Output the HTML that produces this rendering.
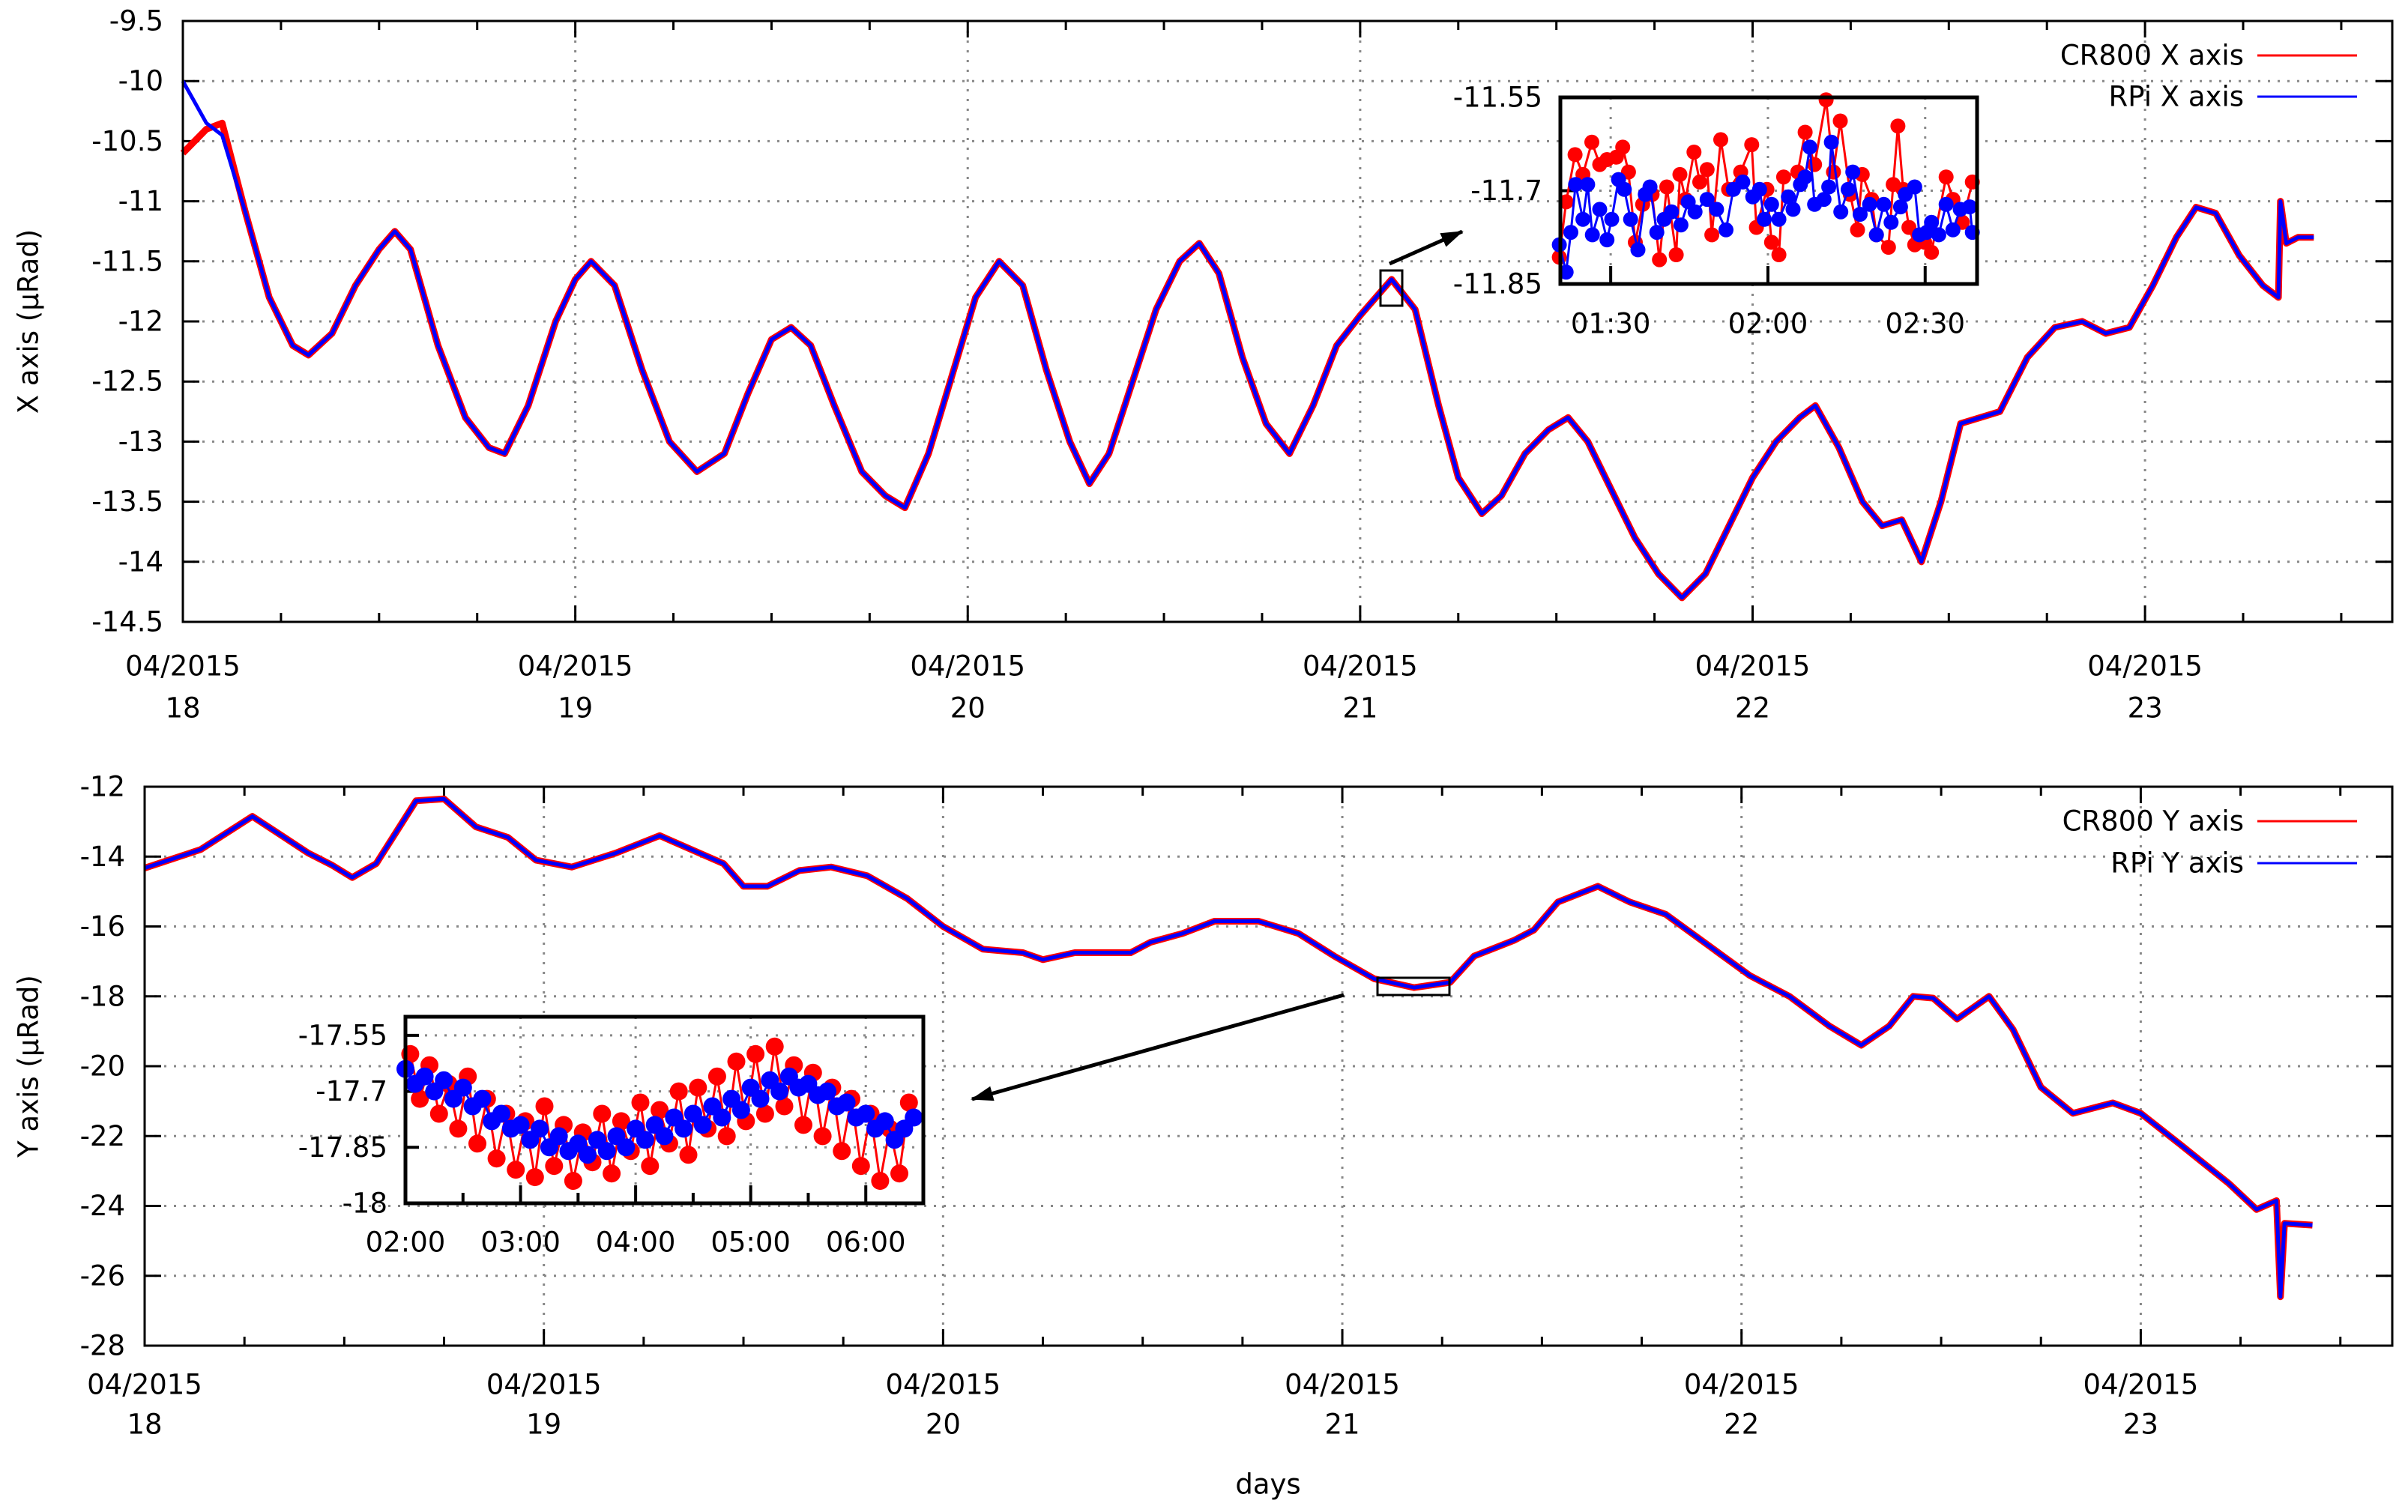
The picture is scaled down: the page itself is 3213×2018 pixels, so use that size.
<!DOCTYPE html>
<html><head><meta charset="utf-8"><style>
html,body{margin:0;padding:0;background:#fff;}
svg{display:block;font-family:"DejaVu Sans","Liberation Sans",sans-serif;}
</style></head><body>
<svg id="chart" width="3213" height="2018" viewBox="0 0 3213 2018" xmlns="http://www.w3.org/2000/svg">
<defs><marker id="ah" markerWidth="30" markerHeight="20" refX="28" refY="10" orient="auto" markerUnits="userSpaceOnUse" viewBox="0 0 30 20"><path d="M0,0 L30,10 L0,20 z" fill="#000"/></marker></defs>
</svg>
<script>
// ---- data: main X (top) ----
const daysX=[18.00,18.06,18.10,18.16,18.22,18.28,18.32,18.38,18.44,18.50,18.54,18.58,18.65,18.72,18.78,18.82,18.88,18.95,19.00,19.04,19.10,19.17,19.24,19.31,19.38,19.44,19.50,19.55,19.60,19.66,19.73,19.79,19.84,19.90,19.96,20.02,20.08,20.14,20.20,20.26,20.31,20.36,20.42,20.48,20.54,20.59,20.64,20.70,20.76,20.82,20.88,20.94,21.00,21.08,21.14,21.20,21.25,21.31,21.36,21.42,21.48,21.53,21.58,21.64,21.70,21.76,21.82,21.88,21.94,22.00,22.06,22.12,22.16,22.22,22.28,22.33,22.38,22.43,22.48,22.53,22.58,22.63,22.70,22.77,22.84,22.90,22.96,23.02,23.08,23.13,23.18,23.24,23.30,23.34,23.345,23.36,23.39,23.43];
const xBlue=[-10.00,-10.35,-10.45,-11.10,-11.80,-12.20,-12.28,-12.10,-11.70,-11.40,-11.25,-11.40,-12.20,-12.80,-13.05,-13.10,-12.70,-12.00,-11.65,-11.50,-11.70,-12.40,-13.00,-13.25,-13.10,-12.60,-12.15,-12.05,-12.20,-12.70,-13.25,-13.45,-13.55,-13.10,-12.45,-11.80,-11.50,-11.70,-12.40,-13.00,-13.35,-13.10,-12.50,-11.90,-11.50,-11.35,-11.60,-12.30,-12.85,-13.10,-12.70,-12.20,-11.95,-11.65,-11.90,-12.70,-13.30,-13.60,-13.45,-13.10,-12.90,-12.80,-13.00,-13.40,-13.80,-14.10,-14.30,-14.10,-13.70,-13.30,-13.00,-12.80,-12.70,-13.05,-13.50,-13.70,-13.65,-14.00,-13.50,-12.85,-12.80,-12.75,-12.30,-12.05,-12.00,-12.10,-12.05,-11.70,-11.30,-11.05,-11.10,-11.45,-11.70,-11.80,-11.00,-11.35,-11.30,-11.30];
const xRed=[-10.60,-10.40,-10.35].concat(xBlue.slice(3));
// ---- data: main Y (bottom) ----
const daysY=[18.00,18.14,18.27,18.41,18.47,18.52,18.58,18.68,18.75,18.83,18.91,18.98,19.07,19.18,19.29,19.39,19.45,19.50,19.56,19.64,19.72,19.81,19.91,20.00,20.10,20.20,20.25,20.33,20.47,20.52,20.60,20.68,20.79,20.89,20.98,21.08,21.18,21.27,21.33,21.43,21.48,21.54,21.64,21.72,21.81,21.93,22.02,22.12,22.22,22.30,22.37,22.43,22.48,22.54,22.62,22.68,22.75,22.83,22.93,23.00,23.10,23.22,23.29,23.34,23.35,23.36,23.43];
const yBlue=[-14.33,-13.8,-12.85,-13.9,-14.25,-14.6,-14.2,-12.4,-12.35,-13.15,-13.45,-14.1,-14.3,-13.9,-13.4,-13.9,-14.2,-14.85,-14.85,-14.4,-14.3,-14.55,-15.2,-16.0,-16.65,-16.75,-16.95,-16.75,-16.75,-16.45,-16.2,-15.85,-15.85,-16.2,-16.85,-17.5,-17.75,-17.6,-16.85,-16.4,-16.1,-15.3,-14.85,-15.3,-15.65,-16.65,-17.4,-18.0,-18.85,-19.4,-18.85,-18.0,-18.05,-18.65,-18.0,-18.95,-20.6,-21.35,-21.05,-21.35,-22.25,-23.35,-24.1,-23.85,-26.6,-24.5,-24.55];
const yRed=yBlue.slice();
// ---- data: inset X (minutes after 01:00) ----
const insXRedT=[20.2,21.5,23.2,24.7,26.4,27.9,29.3,31.1,32.3,33.4,34.7,36.1,37.9,39.3,40.7,42.5,43.2,44.3,45.9,47.0,48.4,49.3,51.0,52.5,54.8,56.9,57.8,59.8,60.7,62.1,63.0,65.7,67.1,68.9,71.1,72.5,73.8,75.7,77.1,78.0,79.8,80.7,83.0,83.9,84.8,85.8,86.9,88.0,89.9,91.2,94.0,95.3,97.1,99.0];
const insXRedV=[-11.807,-11.718,-11.642,-11.674,-11.622,-11.658,-11.650,-11.646,-11.630,-11.670,-11.783,-11.722,-11.706,-11.811,-11.694,-11.803,-11.674,-11.714,-11.638,-11.686,-11.666,-11.771,-11.618,-11.698,-11.670,-11.626,-11.759,-11.698,-11.783,-11.803,-11.678,-11.670,-11.606,-11.658,-11.554,-11.670,-11.588,-11.706,-11.763,-11.674,-11.714,-11.771,-11.791,-11.690,-11.596,-11.698,-11.759,-11.787,-11.783,-11.799,-11.678,-11.714,-11.751,-11.686];
const insXBlueT=[20.2,21.5,22.4,23.3,24.7,25.6,26.5,27.9,29.3,30.2,31.5,32.6,33.8,35.2,36.6,37.5,38.8,40.2,41.6,43.4,44.8,46.1,48.4,50.2,52.0,53.4,55.2,57.1,58.4,59.3,60.7,62.1,63.9,64.8,66.2,67.1,68.0,68.9,70.7,71.6,72.1,73.9,75.3,76.2,77.6,79.4,80.7,82.1,83.5,85.3,86.2,88.0,88.9,90.3,91.2,92.6,94.0,95.3,96.7,98.5,99.0];
const insXBlueV=[-11.787,-11.831,-11.767,-11.690,-11.746,-11.690,-11.771,-11.730,-11.779,-11.746,-11.682,-11.698,-11.746,-11.795,-11.706,-11.694,-11.767,-11.746,-11.734,-11.755,-11.718,-11.734,-11.714,-11.730,-11.763,-11.698,-11.686,-11.710,-11.698,-11.746,-11.722,-11.746,-11.710,-11.730,-11.690,-11.678,-11.630,-11.722,-11.714,-11.694,-11.622,-11.734,-11.698,-11.670,-11.738,-11.722,-11.771,-11.722,-11.751,-11.726,-11.706,-11.694,-11.771,-11.767,-11.751,-11.771,-11.722,-11.763,-11.730,-11.726,-11.767];
// ---- data: inset Y (minutes after 02:00) ----
const insYBlueV=[-17.64,-17.68,-17.66,-17.70,-17.67,-17.72,-17.69,-17.74,-17.72,-17.78,-17.76,-17.80,-17.79,-17.83,-17.80,-17.85,-17.82,-17.86,-17.84,-17.87,-17.83,-17.86,-17.82,-17.85,-17.80,-17.83,-17.79,-17.82,-17.77,-17.80,-17.76,-17.79,-17.74,-17.77,-17.72,-17.75,-17.69,-17.72,-17.67,-17.70,-17.66,-17.69,-17.68,-17.71,-17.70,-17.74,-17.73,-17.77,-17.76,-17.80,-17.78,-17.83,-17.80,-17.77];
const insYRedV=[-17.60,-17.72,-17.63,-17.76,-17.68,-17.80,-17.66,-17.84,-17.72,-17.88,-17.76,-17.91,-17.78,-17.93,-17.74,-17.90,-17.79,-17.94,-17.81,-17.89,-17.76,-17.92,-17.78,-17.86,-17.73,-17.90,-17.75,-17.84,-17.70,-17.87,-17.69,-17.80,-17.66,-17.82,-17.62,-17.78,-17.60,-17.76,-17.58,-17.74,-17.63,-17.79,-17.65,-17.82,-17.69,-17.86,-17.72,-17.90,-17.76,-17.94,-17.80,-17.92,-17.73];
const insYBlueT=insYBlueV.map((v,i)=>i*5);
const insYRedT=insYRedV.map((v,i)=>2.5+i*5);
const dayLabels=["18","19","20","21","22","23"];
const xTicksTop=["-9.5","-10","-10.5","-11","-11.5","-12","-12.5","-13","-13.5","-14","-14.5"];
const yTicksBot=["-12","-14","-16","-18","-20","-22","-24","-26","-28"];

const FS=37;
const svg=document.getElementById('chart');
const NS='http://www.w3.org/2000/svg';
function mk(tag,attrs,parent){const e=document.createElementNS(NS,tag);for(const k in attrs)e.setAttribute(k,attrs[k]);(parent||svg).appendChild(e);return e;}
function txt(s,x,y,anchor,size,parent){const t=mk('text',{x:x,y:y,'text-anchor':anchor,'dominant-baseline':'central','font-size':size,fill:'#000'},parent);t.textContent=s;return t;}

function panel(o){
  const g=mk('g',{});
  
  
  const X=d=>o.L+(d-o.x0)/(o.x1-o.x0)*(o.R-o.L);
  const Y=v=>o.T+(o.y0-v)/(o.y0-o.y1)*(o.B-o.T);
  o.yTicks.forEach(s=>{const v=parseFloat(s),y=Y(v);
    if(v!==o.y0&&v!==o.y1) mk('line',{x1:o.L,x2:o.R,y1:y,y2:y,stroke:'#888','stroke-width':3,'stroke-dasharray':'3,10'},g);
    mk('line',{x1:o.L,x2:o.L+22,y1:y,y2:y,stroke:'#000','stroke-width':3},g);
    mk('line',{x1:o.R,x2:o.R-22,y1:y,y2:y,stroke:'#000','stroke-width':3},g);
    const t=txt(s,o.L-26,y,'end',FS,g);
    
    
  });
  for(let q=0;q<=22;q++){const d=o.x0+q*0.25;if(d>o.x1)break;const x=X(d);const major=q%4===0;
    if(major&&q>0) mk('line',{x1:x,x2:x,y1:o.T,y2:o.B,stroke:'#888','stroke-width':3,'stroke-dasharray':'3,10'},g);
    const len=major?22:12;
    mk('line',{x1:x,x2:x,y1:o.B,y2:o.B-len,stroke:'#000','stroke-width':3},g);
    mk('line',{x1:x,x2:x,y1:o.T,y2:o.T+len,stroke:'#000','stroke-width':3},g);
  }
  dayLabels.forEach((s,i)=>{const x=X(18+i);
    const a=txt('04/2015',x,o.lab1,'middle',FS,g);
    
    
    const b=txt(s,x,o.lab2,'middle',FS,g);
    
    
  });
  const pr=o.days.map((d,i)=>X(d).toFixed(1)+','+Y(o.red[i]).toFixed(1)).join(' ');
  const pb=o.days.map((d,i)=>X(d).toFixed(1)+','+Y(o.blue[i]).toFixed(1)).join(' ');
  const lr=mk('polyline',{points:pr,fill:'none',stroke:'#f00','stroke-width':9,'stroke-linejoin':'round'},g);
  
  
  const lb=mk('polyline',{points:pb,fill:'none',stroke:'#00f','stroke-width':5,'stroke-linejoin':'round'},g);
  
  
  mk('rect',{x:o.L,y:o.T,width:o.R-o.L,height:o.B-o.T,fill:'none',stroke:'#000','stroke-width':3},g);
  [[o.leg[0],'#f00',o.legY[0]],[o.leg[1],'#00f',o.legY[1]]].forEach(([s,c,y])=>{
    const t=txt(s,2994,y,'end',FS,g);
    
    
    const l=mk('line',{x1:3012,x2:3145,y1:y,y2:y,stroke:c,'stroke-width':3},g);
    
    
  });
  const cy=(o.T+o.B)/2;
  const at=txt(o.title,38,cy,'middle',FS,g);
  at.setAttribute('transform','rotate(-90 38 '+cy+')');
  
  
  return {X,Y};
}

const topPanel=panel({name:'x-axis-panel',L:244,R:3192,T:28,B:830,x0:18,x1:23.63,y0:-9.5,y1:-14.5,yTicks:xTicksTop,lab1:889,lab2:945,days:daysX,red:xRed,blue:xBlue,leg:['CR800 X axis','RPi X axis'],legY:[74,129],title:'X axis (µRad)'});
const bottomPanel=panel({name:'y-axis-panel',L:193,R:3192,T:1050,B:1796,x0:18,x1:23.63,y0:-12,y1:-28,yTicks:yTicksBot,lab1:1848,lab2:1901,days:daysY,red:yRed,blue:yBlue,leg:['CR800 Y axis','RPi Y axis'],legY:[1096,1152],title:'Y axis (µRad)'});

const xt=txt('days',1692,1981,'middle',FS);



const zb1=mk('rect',{x:1842,y:361,width:29,height:47,fill:'none',stroke:'#000','stroke-width':3});


const ar1=mk('line',{x1:1854,y1:352,x2:1951,y2:309,stroke:'#000','stroke-width':5,'marker-end':'url(#ah)'});


const zb2=mk('rect',{x:1838,y:1305,width:96,height:23,fill:'none',stroke:'#000','stroke-width':3});


const ar2=mk('line',{x1:1793,y1:1328,x2:1297,y2:1467,stroke:'#000','stroke-width':5,'marker-end':'url(#ah)'});



function inset(o){
  const g=mk('g',{});
  
  
  mk('rect',{x:o.L,y:o.T,width:o.R-o.L,height:o.B-o.T,fill:'#fff'},g);
  const X=t=>o.L+(t-o.t0)/(o.t1-o.t0)*(o.R-o.L);
  const Y=v=>o.T+(o.v0-v)/(o.v0-o.v1)*(o.B-o.T);
  o.yt.forEach(s=>{const y=Y(parseFloat(s));
    mk('line',{x1:o.L,x2:o.R,y1:y,y2:y,stroke:'#888','stroke-width':3,'stroke-dasharray':'3,10'},g);
    mk('line',{x1:o.L,x2:o.L+18,y1:y,y2:y,stroke:'#000','stroke-width':4},g);
    const t=txt(s,o.L-24,y,'end',FS,g);
    
    
  });
  o.xt.forEach(([s,t])=>{const x=X(t);
    if(t>o.t0) mk('line',{x1:x,x2:x,y1:o.T,y2:o.B,stroke:'#888','stroke-width':3,'stroke-dasharray':'3,10'},g);
    mk('line',{x1:x,x2:x,y1:o.B,y2:o.B-24,stroke:'#000','stroke-width':4},g);
    const l=txt(s,x,o.lab,'middle',FS,g);
    
    
  });
  (o.minor||[]).forEach(t=>{const x=X(t);mk('line',{x1:x,x2:x,y1:o.B,y2:o.B-14,stroke:'#000','stroke-width':4},g);});
  const cp='clip-'+o.name;
  const c=mk('clipPath',{id:cp},g);mk('rect',{x:o.L-12,y:o.T-12,width:o.R-o.L+24,height:o.B-o.T+24},c);
  const sg=mk('g',{'clip-path':'url(#'+cp+')'},g);
  [[o.rt,o.rv,'#f00','cr800'],[o.bt,o.bv,'#00f','rpi']].forEach(([T,V,col,nm])=>{
    const pl=mk('polyline',{points:T.map((t,i)=>X(t).toFixed(1)+','+Y(V[i]).toFixed(1)).join(' '),fill:'none',stroke:col,'stroke-width':3},sg);
    
    
    T.forEach((t,i)=>{
      const m=mk('circle',{cx:X(t).toFixed(1),cy:Y(V[i]).toFixed(1),r:o.r,fill:col},sg);
      
      
    });
  });
  mk('rect',{x:o.L,y:o.T,width:o.R-o.L,height:o.B-o.T,fill:'none',stroke:'#000','stroke-width':5},g);
}
inset({name:'x-inset',L:2082,R:2638,T:130,B:379,t0:20.4,t1:99.9,v0:-11.55,v1:-11.85,yt:['-11.55','-11.7','-11.85'],xt:[['01:30',30],['02:00',60],['02:30',90]],lab:432,rt:insXRedT,rv:insXRedV,bt:insXBlueT,bv:insXBlueV,r:10});
inset({name:'y-inset',L:541,R:1232,T:1357,B:1606,t0:0,t1:270,v0:-17.5,v1:-18,yt:['-17.55','-17.7','-17.85','-18'],xt:[['02:00',0],['03:00',60],['04:00',120],['05:00',180],['06:00',240]],minor:[30,90,150,210],lab:1658,rt:insYRedT,rv:insYRedV,bt:insYBlueT,bv:insYBlueV,r:12});
</script>
</body></html>
